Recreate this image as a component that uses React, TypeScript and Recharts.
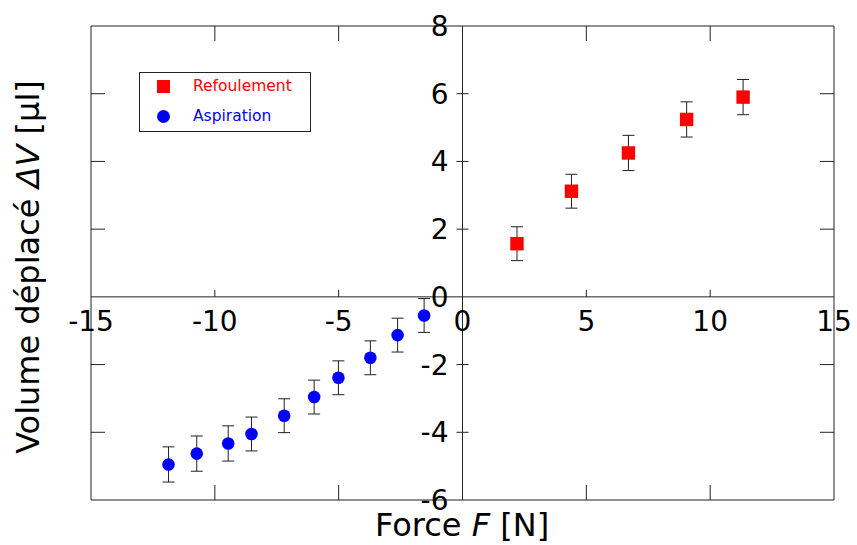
import { ErrorBar, ReferenceLine, Scatter, ScatterChart, XAxis, YAxis } from 'recharts';

const refForce = [2.2, 4.4, 6.7, 9.05, 11.33];
const refVolume = [1.57, 3.12, 4.25, 5.24, 5.9];
const refError = [0.5, 0.5, 0.52, 0.52, 0.52];

const aspForce = [-11.87, -10.73, -9.46, -8.52, -7.2, -5.99, -5.01, -3.72, -2.62, -1.55];
const aspVolume = [-4.95, -4.63, -4.33, -4.05, -3.51, -2.96, -2.39, -1.8, -1.13, -0.55];
const aspError = [0.52, 0.52, 0.52, 0.5, 0.5, 0.5, 0.5, 0.5, 0.5, 0.5];

const xTickLabels = [-15, -10, -5, 0, 5, 10, 15];
const yTickLabels = [-6, -4, -2, 0, 2, 4, 6, 8];
const xInnerTicks = [-10, -5, 5, 10];
const yInnerTicks = [-4, -2, 2, 4, 6];
const xLimits = [-15, 15];
const yLimits = [-6, 8];

const FONT = '"DejaVu Sans", sans-serif';
const AXIS = '#222';

const refData = refForce.map((x, i) => ({ x, y: refVolume[i], err: refError[i] }));
const aspData = aspForce.map((x, i) => ({ x, y: aspVolume[i], err: aspError[i] }));
const xLabelData = xTickLabels.map((x) => ({ x, y: 0 }));
const yLabelData = yTickLabels.map((y) => ({ x: 0, y }));
// tick marks on the frame: bottom / top edges and left / right edges
const xFrameTicks = xInnerTicks.flatMap((x) => yLimits.map((y) => ({ x, y, dir: y < 0 ? -1 : 1 })));
const yFrameTicks = yInnerTicks.flatMap((y) => xLimits.map((x) => ({ x, y, dir: x < 0 ? 1 : -1 })));

const fmt = (v: number) => (v < 0 ? `-${Math.abs(v)}` : `${v}`);

function Square(p: any) {
  return <rect x={p.cx - 6.7} y={p.cy - 6.7} width={13.4} height={13.4} fill="#ff0000" />;
}

function Dot(p: any) {
  return <circle cx={p.cx} cy={p.cy} r={6.3} fill="#0000ff" />;
}

function XLabel(p: any) {
  const v = p.payload.x;
  return (
    <g>
      {xInnerTicks.includes(v) && <line x1={p.cx} x2={p.cx} y1={p.cy} y2={p.cy - 7} stroke={AXIS} />}
      <text x={p.cx} y={p.cy + 34} textAnchor="middle" fontSize={28} fontFamily={FONT} fill="#000">
        {fmt(v)}
      </text>
    </g>
  );
}

function YLabel(p: any) {
  const v = p.payload.y;
  return (
    <g>
      {yInnerTicks.includes(v) && <line x1={p.cx - 6} x2={p.cx + 6} y1={p.cy} y2={p.cy} stroke={AXIS} />}
      <text x={p.cx - 14} y={p.cy + 10} textAnchor="end" fontSize={28} fontFamily={FONT} fill="#000">
        {fmt(v)}
      </text>
    </g>
  );
}

function XFrameTick(p: any) {
  return <line x1={p.cx} x2={p.cx} y1={p.cy} y2={p.cy + 15 * p.payload.dir} stroke={AXIS} />;
}

function YFrameTick(p: any) {
  return <line x1={p.cx} x2={p.cx + 14 * p.payload.dir} y1={p.cy} y2={p.cy} stroke={AXIS} />;
}

function LegendBox() {
  return (
    <div
      style={{
        position: 'absolute',
        left: 139,
        top: 72,
        width: 170,
        height: 58,
        border: '1px solid #222',
        background: '#fff',
        fontFamily: FONT,
        fontSize: 15.5,
      }}
    >
      <div style={{ position: 'absolute', left: 17, top: 7, width: 13, height: 13, background: '#ff0000' }} />
      <div style={{ position: 'absolute', left: 53, top: 4, color: '#ff0000' }}>Refoulement</div>
      <div
        style={{ position: 'absolute', left: 17, top: 37, width: 13, height: 13, borderRadius: '50%', background: '#0000ff' }}
      />
      <div style={{ position: 'absolute', left: 53, top: 34, color: '#0000ff' }}>Aspiration</div>
    </div>
  );
}

export default function App() {
  return (
    <div style={{ position: 'absolute', left: 0, top: 0, width: 857, height: 545, background: '#fff' }}>
      <ScatterChart width={857} height={545} margin={{ top: 25, right: 22, bottom: 44, left: 90 }}>
        <XAxis
          type="number"
          dataKey="x"
          domain={[-15, 15]}
          ticks={xTickLabels}
          height={1}
          tick={false}
          tickLine={false}
          axisLine={{ stroke: AXIS }}
        />
        <XAxis
          xAxisId="top"
          orientation="top"
          type="number"
          dataKey="x"
          domain={[-15, 15]}
          ticks={xTickLabels}
          height={1}
          tick={false}
          tickLine={false}
          axisLine={{ stroke: AXIS }}
        />
        <YAxis
          type="number"
          dataKey="y"
          domain={[-6, 8]}
          ticks={yTickLabels}
          width={1}
          tick={false}
          tickLine={false}
          axisLine={{ stroke: AXIS }}
        />
        <YAxis
          yAxisId="right"
          orientation="right"
          type="number"
          dataKey="y"
          domain={[-6, 8]}
          ticks={yTickLabels}
          width={1}
          tick={false}
          tickLine={false}
          axisLine={{ stroke: AXIS }}
        />
        <ReferenceLine x={0} stroke={AXIS} />
        <ReferenceLine y={0} stroke={AXIS} />
        <Scatter data={xFrameTicks} shape={XFrameTick} isAnimationActive={false} legendType="none" />
        <Scatter data={yFrameTicks} shape={YFrameTick} isAnimationActive={false} legendType="none" />
        <Scatter data={xLabelData} shape={XLabel} isAnimationActive={false} legendType="none" />
        <Scatter data={yLabelData} shape={YLabel} isAnimationActive={false} legendType="none" />
        <Scatter name="Refoulement" data={refData} shape={Square} isAnimationActive={false}>
          <ErrorBar dataKey="err" direction="y" width={6} stroke={AXIS} strokeWidth={1} />
        </Scatter>
        <Scatter name="Aspiration" data={aspData} shape={Dot} isAnimationActive={false}>
          <ErrorBar dataKey="err" direction="y" width={6} stroke={AXIS} strokeWidth={1} />
        </Scatter>
      </ScatterChart>
      <LegendBox />
      <div
        style={{
          position: 'absolute',
          left: 262,
          width: 400,
          top: 506,
          textAlign: 'center',
          fontFamily: FONT,
          fontSize: 32,
          whiteSpace: 'nowrap',
        }}
      >
        Force <i>F</i> [N]
      </div>
      <div
        style={{
          position: 'absolute',
          left: 28,
          top: 267,
          transform: 'translate(-50%, -50%) rotate(-90deg)',
          fontFamily: FONT,
          fontSize: 32,
          whiteSpace: 'nowrap',
        }}
      >
        Volume déplacé <i>ΔV</i> [µl]
      </div>
    </div>
  );
}
